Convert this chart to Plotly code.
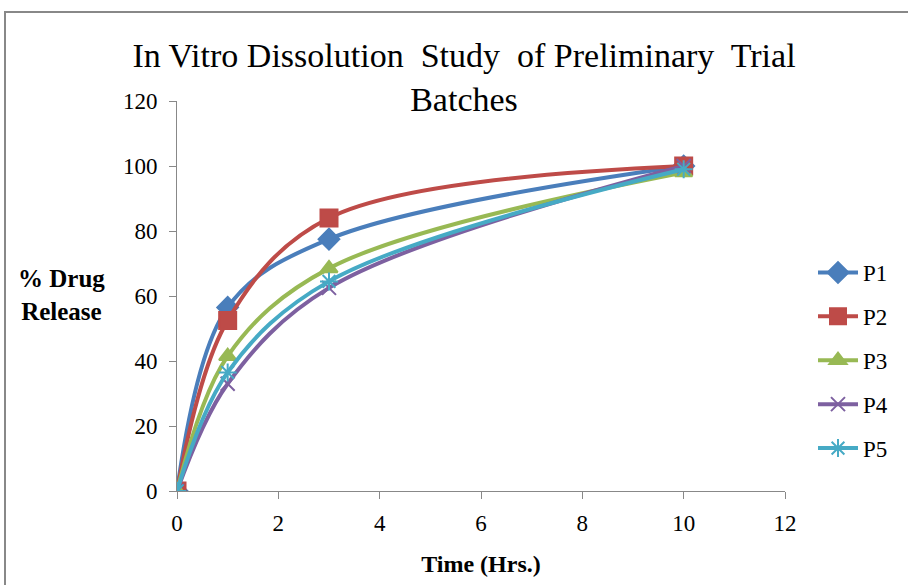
import plotly.graph_objects as go

time_hrs = [0, 1, 3, 10]
series_names = ["P1", "P2", "P3", "P4", "P5"]
p1 = [0, 56.5, 77.5, 100]
p2 = [0, 52.5, 84, 100]
p3 = [0, 41.5, 68.5, 98]
p4 = [0, 33, 62.5, 100]
p5 = [0, 36.5, 64.5, 99]
x_ticks = [0, 2, 4, 6, 8, 10, 12]
y_ticks = [0, 20, 40, 60, 80, 100, 120]

colors = ["#4a7ebb", "#be4b48", "#98b954", "#7d60a0", "#46aac5"]
symbols = ["diamond", "square", "triangle-up", "x-thin-open", "asterisk-open"]
sizes = [16, 17, 15, 14, 15]

fig = go.Figure()
for name, vals, c, s, sz in zip(series_names, [p1, p2, p3, p4, p5], colors, symbols, sizes):
    fig.add_trace(go.Scatter(
        x=time_hrs, y=vals, name=name, mode="lines+markers", legendgroup=name,
        line=dict(color=c, width=4, shape="spline", smoothing=1),
        marker=dict(symbol=s, size=sz, color=c, line=dict(color=c, width=2)),
    ))

font_fam = "Liberation Serif, Times New Roman, serif"
L, R, T, B = 177, 123, 101, 94
pw, ph = 908 - L - R, 585 - T - B

def px_x(p):
    return (p - L) / pw

def px_y(p):
    return (585 - B - p) / ph

fig.update_layout(
    width=908, height=585,
    margin=dict(l=L, r=R, t=T, b=B),
    paper_bgcolor="white", plot_bgcolor="white",
    font=dict(family=font_fam, color="black", size=22),
    title=dict(text="In Vitro Dissolution  Study  of Preliminary  Trial<br>Batches",
               x=464 / 908, xanchor="center", xref="container", y=1 - 67 / 585, yanchor="top",
               font=dict(size=34, family=font_fam)),
    xaxis=dict(range=[0, 12], tickvals=x_ticks, showgrid=False, zeroline=False,
               showline=True, linecolor="#888888", linewidth=1,
               ticks="outside", ticklen=7, tickcolor="#888888",
               tickfont=dict(size=23), ticklabelstandoff=4,
               title=dict(text="<b>Time (Hrs.)</b>", font=dict(size=24), standoff=20)),
    yaxis=dict(range=[0, 120], tickvals=y_ticks, showgrid=False, zeroline=False,
               showline=True, linecolor="#888888", linewidth=1,
               ticks="outside", ticklen=7, tickcolor="#888888",
               tickfont=dict(size=23), ticklabelstandoff=7),
    legend=dict(x=px_x(813), y=px_y(251), xanchor="left", yanchor="top",
                font=dict(size=23), tracegroupgap=11, itemwidth=40,
                bgcolor="rgba(0,0,0,0)"),
    showlegend=True,
    annotations=[dict(text="<b>% Drug<br>Release</b>", x=px_x(61), y=px_y(295),
                      xref="paper", yref="paper", showarrow=False,
                      xanchor="center", yanchor="middle",
                      font=dict(size=25), align="center")],
    shapes=[dict(type="rect", xref="paper", yref="paper",
                 x0=px_x(5), x1=px_x(920), y0=px_y(600), y1=px_y(12),
                 line=dict(color="#888888", width=2), layer="below")],
)

fig.write_html("out.html")
